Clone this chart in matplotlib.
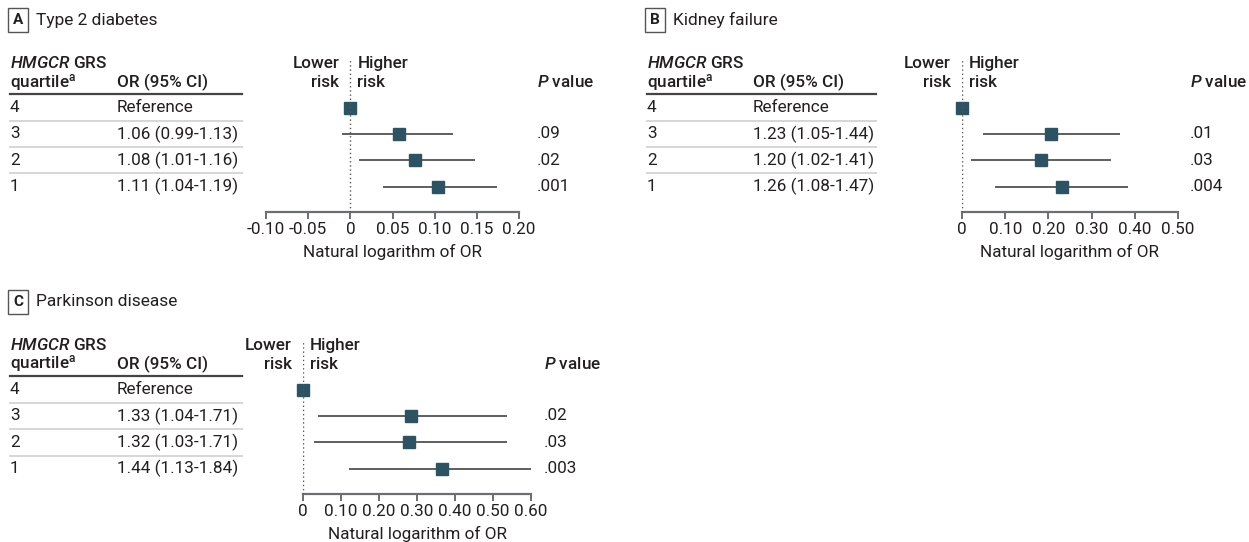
import matplotlib
matplotlib.use('Agg')
import matplotlib.pyplot as plt
from matplotlib import font_manager

# pick a condensed face if there is one
names = set(f.name for f in font_manager.fontManager.ttflist)
FONT = 'Liberation Sans Narrow' if 'Liberation Sans Narrow' in names else 'Roboto'
plt.rcParams['font.family'] = [FONT, 'DejaVu Sans']
plt.rcParams['mathtext.fontset'] = 'custom'
plt.rcParams['mathtext.rm'] = FONT + ':medium'
plt.rcParams['mathtext.it'] = FONT + ':italic:medium'

# ---- data ----
quartiles = ['4', '3', '2', '1']

diab_or = ['Reference', '1.06 (0.99-1.13)', '1.08 (1.01-1.16)', '1.11 (1.04-1.19)']
diab_p = ['', '.09', '.02', '.001']
diab_est = [0.0, 0.058, 0.077, 0.104]
diab_lo = [0.0, -0.010, 0.010, 0.039]
diab_hi = [0.0, 0.122, 0.148, 0.174]

kid_or = ['Reference', '1.23 (1.05-1.44)', '1.20 (1.02-1.41)', '1.26 (1.08-1.47)']
kid_p = ['', '.01', '.03', '.004']
kid_est = [0.0, 0.207, 0.182, 0.231]
kid_lo = [0.0, 0.049, 0.020, 0.077]
kid_hi = [0.0, 0.365, 0.344, 0.385]

park_or = ['Reference', '1.33 (1.04-1.71)', '1.32 (1.03-1.71)', '1.44 (1.13-1.84)']
park_p = ['', '.02', '.03', '.003']
park_est = [0.0, 0.285, 0.278, 0.365]
park_lo = [0.0, 0.039, 0.030, 0.122]
park_hi = [0.0, 0.536, 0.536, 0.610]

diab_ticks = [-0.10, -0.05, 0, 0.05, 0.10, 0.15, 0.20]
diab_ticklabels = ['-0.10', '-0.05', '0', '0.05', '0.10', '0.15', '0.20']
kid_ticks = [0, 0.1, 0.2, 0.3, 0.4, 0.5]
kid_ticklabels = ['0', '0.10', '0.20', '0.30', '0.40', '0.50']
park_ticks = [0, 0.1, 0.2, 0.3, 0.4, 0.5, 0.6]
park_ticklabels = ['0', '0.10', '0.20', '0.30', '0.40', '0.50', '0.60']

W, H = 1249, 542
fig = plt.figure(figsize=(W / 100, H / 100), dpi=100)

TXT = '#231f20'
MARK = '#2d5362'
FS = 12.3
HW = 'medium'
ROW = 26.4


def fx(x):
    return x / W


def fy(y):
    return 1 - y / H


def panel(letter, title, top, left, or_x, rule_r, ax_l, ax_r, xlim, p_x,
          ors, ps, est, lo, hi, ticks, ticklabels):
    # title with boxed letter
    fig.text(fx(left + 8), fy(top + 12), letter, ha='center', va='center',
             fontsize=11, weight='bold', color=TXT,
             bbox=dict(boxstyle='square,pad=0.35', fc='white', ec='#555555', lw=1))
    fig.text(fx(left + 26), fy(top + 12), title, ha='left', va='center',
             fontsize=12.5, color=TXT)

    # headers
    hy = top + 74  # second header line
    fig.text(fx(left), fy(hy - 19), r'$\mathit{HMGCR}$ GRS', ha='left', va='center',
             fontsize=FS, weight=HW, color=TXT)
    fig.text(fx(left), fy(hy), r'quartile$^{\mathrm{a}}$', ha='left', va='center',
             fontsize=FS, weight=HW, color=TXT)
    fig.text(fx(or_x), fy(hy), 'OR (95% CI)', ha='left', va='center',
             fontsize=FS, weight=HW, color=TXT)
    fig.text(fx(p_x), fy(hy), r'$\mathit{P}$ value', ha='left', va='center',
             fontsize=FS, weight=HW, color=TXT)
    zero_px = ax_l + (0 - xlim[0]) / (xlim[1] - xlim[0]) * (ax_r - ax_l)
    fig.text(fx(zero_px - 11), fy(hy - 9), 'Lower\nrisk', ha='right', va='center',
             fontsize=FS, weight=HW, color=TXT, linespacing=1.28)
    fig.text(fx(zero_px + 7), fy(hy - 9), 'Higher\nrisk', ha='left', va='center',
             fontsize=FS, weight=HW, color=TXT, linespacing=1.28)

    # header rule
    rule_y = top + 86
    fig.add_artist(plt.Line2D([fx(left), fx(rule_r)], [fy(rule_y), fy(rule_y)],
                              color='#444444', lw=1.6))
    row0 = top + 99.5
    for i in range(4):
        y = row0 + ROW * i
        fig.text(fx(left), fy(y), quartiles[i], ha='left', va='center',
                 fontsize=FS, color=TXT)
        fig.text(fx(or_x), fy(y), ors[i], ha='left', va='center',
                 fontsize=FS, color=TXT)
        fig.text(fx(p_x), fy(y), ps[i], ha='left', va='center',
                 fontsize=FS, color=TXT)
        if i < 3:
            sy = y + ROW / 2
            fig.add_artist(plt.Line2D([fx(left), fx(rule_r)], [fy(sy), fy(sy)],
                                      color='#d6d6d6', lw=1.4))

    # forest axes
    ax_top = top + 50
    ax_bot = top + 204
    ax = fig.add_axes([fx(ax_l), fy(ax_bot), fx(ax_r - ax_l), (ax_bot - ax_top) / H])
    ax.set_xlim(xlim)
    ax.set_ylim((ax_bot - row0) / ROW, (ax_top - row0) / ROW)
    ax.patch.set_alpha(0)
    for s in ['top', 'left', 'right']:
        ax.spines[s].set_visible(False)
    ax.spines['bottom'].set_color('#6d6e71')
    ax.spines['bottom'].set_linewidth(1.6)
    ax.set_yticks([])
    ax.set_xticks(ticks)
    ax.set_xticklabels(ticklabels)
    ax.tick_params(axis='x', direction='out', length=5, width=1.4, color='#6d6e71',
                   labelsize=FS, labelcolor=TXT, pad=2)
    ax.set_xlabel('Natural logarithm of OR', fontsize=FS, color=TXT, labelpad=5)

    rows = list(range(4))
    ax.hlines(rows[1:], lo[1:], hi[1:], color='#333333', lw=1.1, zorder=2)
    ax.plot(est, rows, 's', ms=9.2, color=MARK, mec=MARK, zorder=3, clip_on=False)
    ax.axvline(0, color='#555555', lw=1, ls=(0, (1, 2)), zorder=4)
    return ax


panel('A', 'Type 2 diabetes', 8, 10, 117, 242, 266, 519, (-0.10, 0.20), 537,
      diab_or, diab_p, diab_est, diab_lo, diab_hi, diab_ticks, diab_ticklabels)
panel('B', 'Kidney failure', 8, 647, 753, 876, 962, 1178, (0, 0.50), 1190,
      kid_or, kid_p, kid_est, kid_lo, kid_hi, kid_ticks, kid_ticklabels)
panel('C', 'Parkinson disease', 290, 10, 117, 242, 303, 531, (0, 0.60), 544,
      park_or, park_p, park_est, park_lo, park_hi, park_ticks, park_ticklabels)

fig.savefig('out.png', dpi=100)
